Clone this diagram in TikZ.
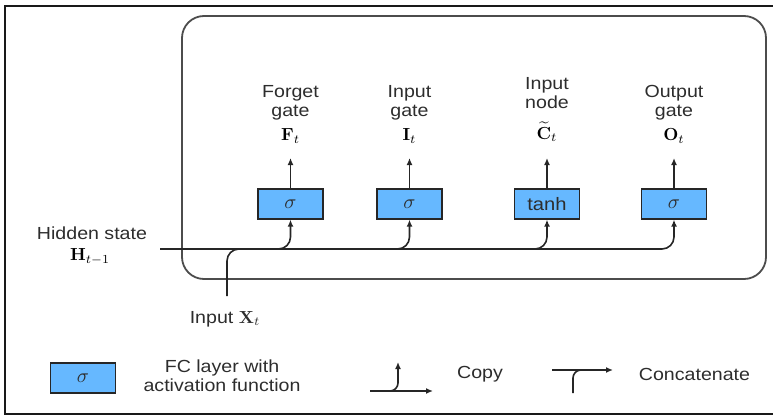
\documentclass[tikz,border=0pt]{standalone}
\usepackage{amsmath}
\usepackage{graphicx}
\usepackage[no-math]{fontspec}
\setmainfont[FakeStretch=1.12]{Liberation Sans}
\usetikzlibrary{arrows.meta}
\definecolor{boxblue}{RGB}{102,184,255}
\definecolor{txt}{RGB}{45,45,45}
\newcommand{\bigsig}{{\fontsize{10}{12}\selectfont\scalebox{2.0}{$\sigma$}}}
\newcommand{\mlb}[1]{{\fontsize{10}{12}\selectfont\scalebox{1.75}{$#1$}}}
\begin{document}
\begin{tikzpicture}[x=1pt,y=-1pt,
  gatebox/.style={draw=black!85, line width=1.3pt, fill=boxblue, minimum width=65pt, minimum height=30pt, inner sep=0pt, font=\fontsize{18}{19}\selectfont, text=txt},
  lbl/.style={align=center, font=\fontsize{17.5}{19}\selectfont, text=txt, inner sep=0pt},
  mlbl/.style={text=black, inner sep=0pt},
  flow/.style={draw=black!85, line width=1.6pt, -{Latex[length=7pt,width=6pt]}},
  plain/.style={draw=black!85, line width=1.6pt}]
\useasboundingbox (0,0) rectangle (773,415);
% outer frame
\draw[line width=1.6pt, black!90] (780,6) -- (5,6) -- (5,414) -- (780,414);
% inner rounded frame
\draw[line width=1.8pt, black!70, rounded corners=22pt] (182,16) rectangle (766,279);
% gates
\node[gatebox] (fg) at (290.5,204) {\bigsig};
\node[gatebox] (ig) at (409.5,204) {\bigsig};
\node[gatebox] (in) at (547,204) {tanh};
\node[gatebox] (og) at (674,204) {\bigsig};
% outputs
\coordinate (fgo) at (290.5,158);
\coordinate (igo) at (409.5,158);
\coordinate (ino) at (547,158);
\coordinate (ogo) at (674,158);
\draw[flow] (fg.north) -- (fgo);
\draw[flow] (ig.north) -- (igo);
\draw[flow] (in.north) -- (ino);
\draw[flow] (og.north) -- (ogo);
% labels
\node[lbl] (fgl) at (290.5,102.5) {Forget\\gate};
\node[lbl] (igl) at (409.5,102.5) {Input\\gate};
\node[lbl] (inl) at (547,93.5) {Input\\node};
\node[lbl] (ogl) at (674,102.5) {Output\\gate};
\node[mlbl] (fgm) at (290.5,136) {\mlb{\mathbf{F}_t}};
\node[mlbl] (igm) at (409.5,136) {\mlb{\mathbf{I}_t}};
\node[mlbl] (inm) at (547,132) {\mlb{\widetilde{\mathbf{C}}_t}};
\node[mlbl] (ogm) at (674,136) {\mlb{\mathbf{O}_t}};
% hidden state & input
\coordinate (hs) at (160,249);
\coordinate (xin) at (227,296);
\coordinate (join) at (262,249);
\node[lbl] (hsl) at (92,233) {Hidden state};
\node[mlbl] (hsm) at (90,257) {\mlb{\mathbf{H}_{t-1}}};
\node[lbl, anchor=base] (xinl) at (225,323) {Input \mlb{\mathbf{X}_t}};
\draw[plain, rounded corners=12pt] (xin) |- (join);
\draw[flow, rounded corners=12pt] (hs) -| (fg.south);
\draw[flow, rounded corners=12pt] (hs) -| (ig.south);
\draw[flow, rounded corners=12pt] (hs) -| (in.south);
\draw[flow, rounded corners=12pt] (hs) -| (og.south);
% legend
\node[gatebox] (lg) at (83,378) {\bigsig};
\node[lbl] (lgt) at (222,375.5) {FC layer with\\activation function};
\coordinate (c1) at (370,391);
\coordinate (c2) at (433,391);
\coordinate (c3) at (384,391);
\coordinate (c4) at (398,362);
\draw[flow] (c1) -- (c2);
\draw[flow, rounded corners=8pt] (c3) -| (c4);
\node[lbl] (cpl) at (480,374) {Copy};
\coordinate (k1) at (552,370);
\coordinate (k2) at (613,370);
\coordinate (k3) at (573,393);
\coordinate (k4) at (590,370);
\draw[flow] (k1) -- (k2);
\draw[plain, rounded corners=8pt] (k3) |- (k4);
\node[lbl] (ktl) at (694.5,374) {Concatenate};
\end{tikzpicture}
\end{document}
